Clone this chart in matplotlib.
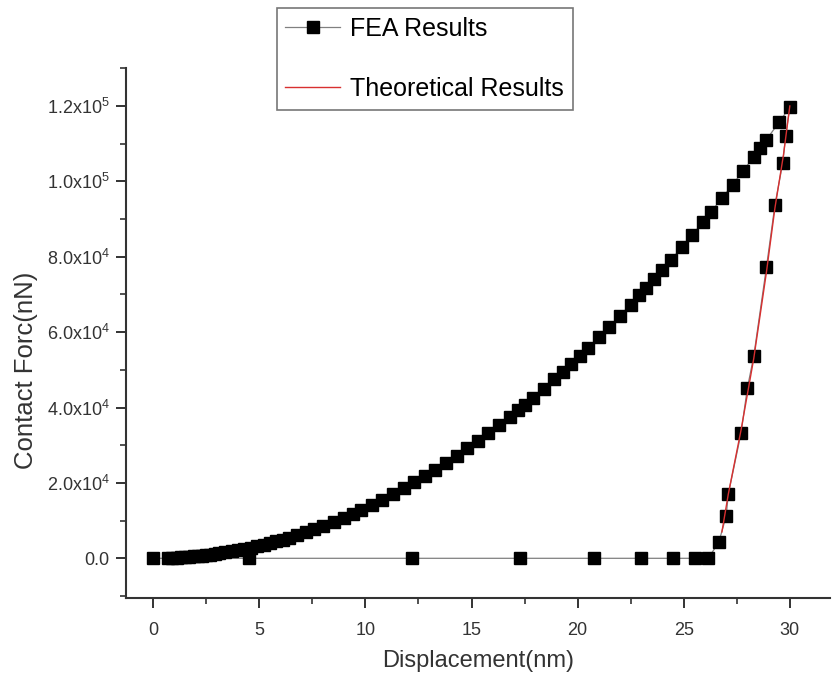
import matplotlib.pyplot as plt
from matplotlib.ticker import MultipleLocator, FixedLocator, FixedFormatter

plt.rcParams['font.family'] = ['Liberation Sans', 'DejaVu Sans']
plt.rcParams['mathtext.fontset'] = 'custom'
plt.rcParams['mathtext.rm'] = 'Liberation Sans'
plt.rcParams['mathtext.default'] = 'regular'

# FEA loading branch
load_x = [0.7, 0.9, 1.1, 1.3, 1.5, 1.7, 1.9, 2.1, 2.3, 2.5, 2.7, 2.9, 3.1, 3.4, 3.7,
          4.0, 4.3, 4.6, 4.9, 5.2, 5.5, 5.8, 6.1, 6.4, 6.8, 7.2, 7.6, 8.0, 8.5, 9.0,
          9.4, 9.8, 10.3, 10.8, 11.3, 11.8, 12.3, 12.8, 13.3, 13.8, 14.3, 14.8, 15.3,
          15.8, 16.3, 16.8, 17.2, 17.5, 17.9, 18.4, 18.9, 19.3, 19.7, 20.1, 20.5, 21.0,
          21.5, 22.0, 22.5, 22.9, 23.2, 23.6, 24.0, 24.4, 24.9, 25.4, 25.9, 26.3, 26.8,
          27.3, 27.8, 28.3, 28.6, 28.9, 29.5, 30.0]
load_y = [65, 108, 161, 225, 300, 384, 480, 587, 704, 831, 970, 1120, 1280, 1540, 1820,
          2130, 2460, 2810, 3190, 3600, 4020, 4470, 4950, 5450, 6150, 6890, 7680, 8510,
          9610, 10770, 11750, 12770, 14110, 15510, 16980, 18520, 20120, 21790, 23530,
          25330, 27200, 29130, 31130, 33200, 35340, 37540, 39350, 40730, 42620, 45030,
          47510, 49540, 51620, 53730, 55890, 58650, 61480, 64370, 67330, 69750, 71590,
          74080, 76610, 79180, 82460, 85800, 89220, 92000, 95530, 99120, 102790, 106520,
          108790, 111080, 115740, 119700]

# FEA unloading branch
unload_x = [29.8, 29.67, 29.3, 28.9, 28.3, 28.0, 27.7, 27.1, 27.0, 26.65, 26.15,
            25.55, 24.5, 23.0, 20.75, 17.3, 12.2, 4.5, 0.0]
unload_y = [112000, 105000, 93800, 77300, 53600, 45200, 33200, 17000, 11200, 4200, 0,
            0, 0, 0, 0, 0, 0, 0, 0]

# theoretical unloading curve
theo_x = [26.8, 27.1, 27.7, 28.3, 28.9, 29.3, 29.7, 30.0]
theo_y = [7000, 17000, 34000, 53000, 76000, 93000, 107000, 120000]

fea_x = load_x + unload_x
fea_y = load_y + unload_y

yticks = [0, 20000, 40000, 60000, 80000, 100000, 120000]
ylabels = ['0.0', '2.0x10$^{4}$', '4.0x10$^{4}$', '6.0x10$^{4}$',
           '8.0x10$^{4}$', '1.0x10$^{5}$', '1.2x10$^{5}$']

fig = plt.figure(figsize=(8.36, 6.76), dpi=100)
ax = fig.add_axes([0.151, 0.115, 0.842, 0.784])

ax.plot(fea_x, fea_y, color='#808080', lw=0.9, marker='s', ms=9.3,
        mfc='black', mec='black', label='FEA Results', zorder=2)
ax.plot(theo_x, theo_y, color='#d83030', lw=1.0, label='Theoretical Results', zorder=3)

ax.set_xlim(-1.27, 31.9)
ax.set_ylim(-10600, 130000)

ax.xaxis.set_major_locator(MultipleLocator(5))
ax.xaxis.set_minor_locator(MultipleLocator(2.5))
ax.yaxis.set_major_locator(FixedLocator(yticks))
ax.yaxis.set_major_formatter(FixedFormatter(ylabels))
ax.yaxis.set_minor_locator(MultipleLocator(10000))

for s in ['top', 'right']:
    ax.spines[s].set_visible(False)
for s in ['left', 'bottom']:
    ax.spines[s].set_linewidth(1.5)
    ax.spines[s].set_color('#333333')

ax.tick_params(which='major', direction='out', length=7, width=1.4, labelsize=13,
               colors='#333333', labelcolor='#333333')
ax.tick_params(axis='x', which='major', pad=10)
ax.tick_params(axis='y', which='major', pad=5)
ax.tick_params(which='minor', direction='out', length=4, width=1.2, colors='#333333')

ax.set_xlabel('Displacement(nm)', fontsize=17, color='#333333', labelpad=8)
ax.set_ylabel('Contact Forc(nN)', fontsize=18.5, color='#333333')
ax.yaxis.set_label_coords(-0.125, 0.43)

leg = fig.legend(loc='upper left', bbox_to_anchor=(0.331, 0.988), fontsize=18,
                 frameon=True, fancybox=False, edgecolor='#777777', framealpha=1,
                 labelspacing=1.45, handlelength=2.2, borderpad=0.35, handletextpad=0.4,
                 borderaxespad=0)
leg.get_frame().set_linewidth(1.2)

fig.savefig('out.png', dpi=100)
